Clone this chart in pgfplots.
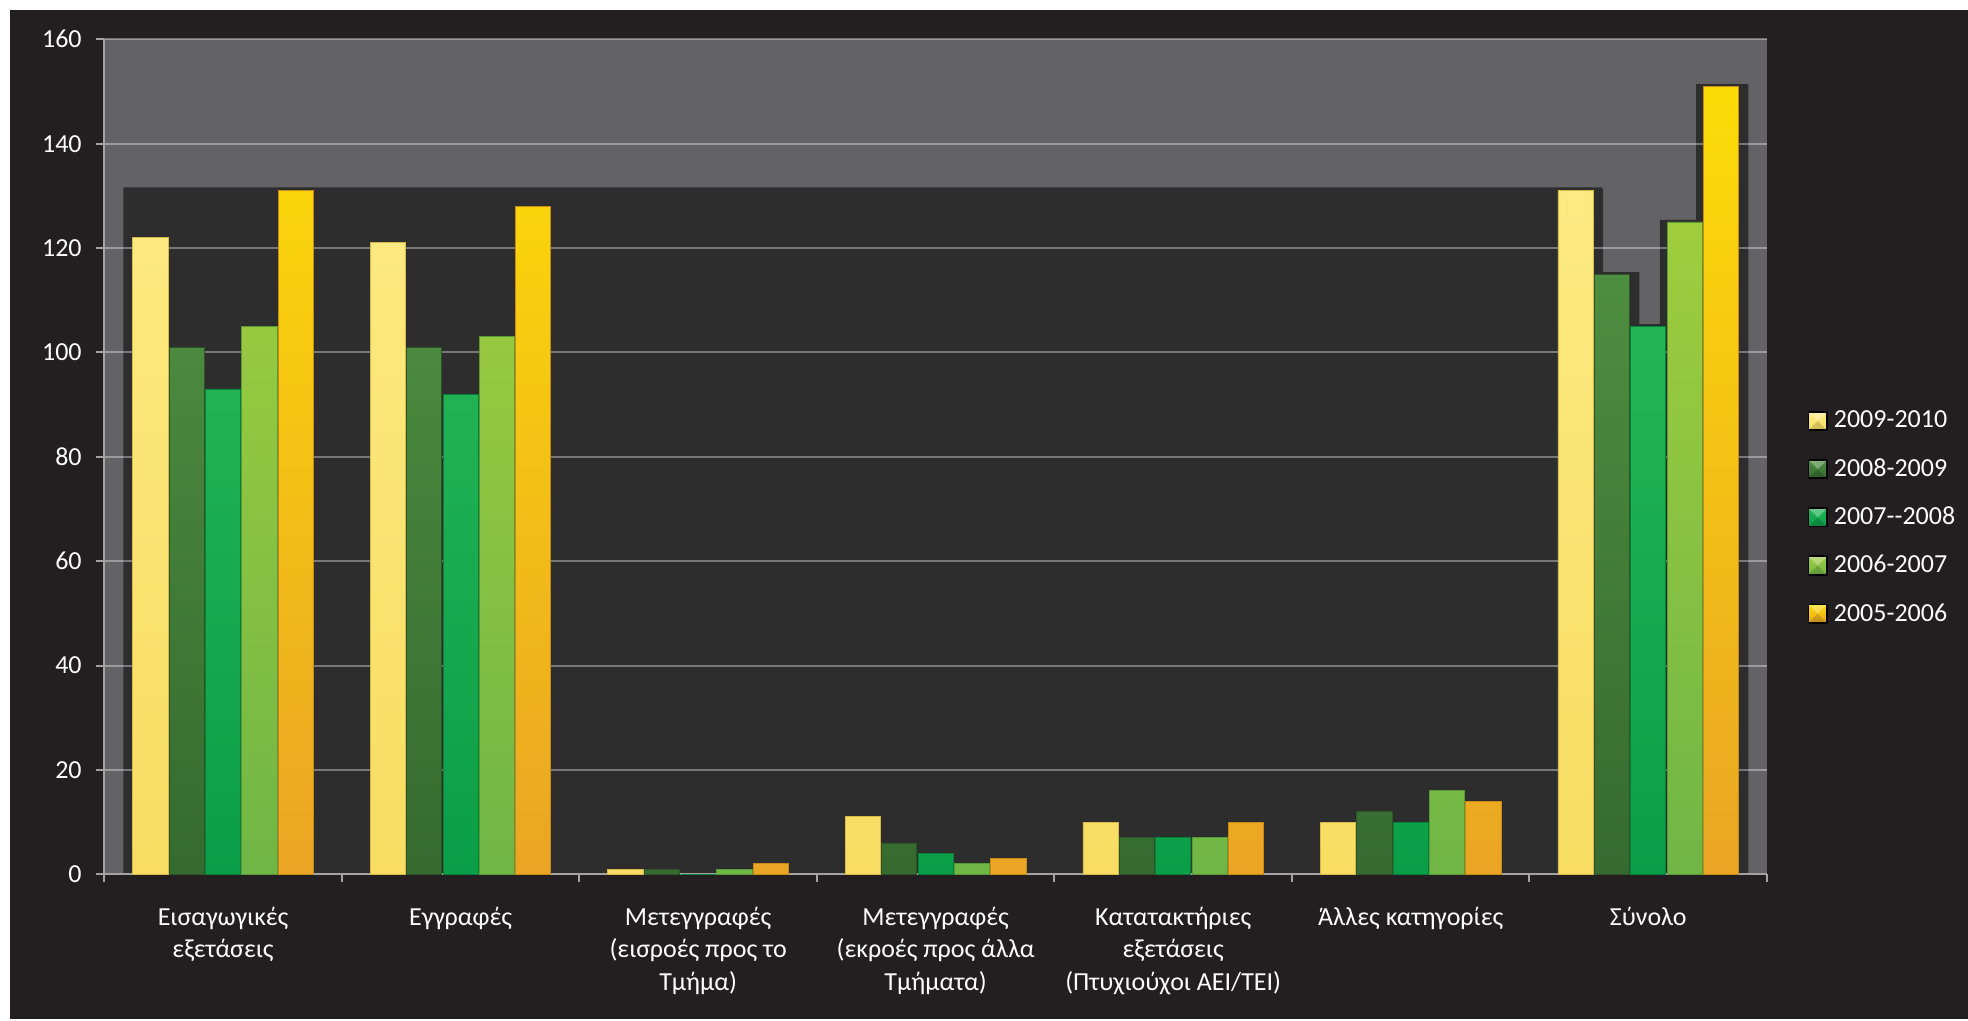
\documentclass[border=0pt]{standalone}
\usepackage{fontspec}
\setmainfont{Carlito}
\usepackage{pgfplots}
\usepackage{pgfplotstable}
\pgfplotsset{compat=1.18}
\definecolor{bgdark}{HTML}{231F20}
\definecolor{plotgray}{HTML}{636365}
\definecolor{shadowdark}{HTML}{2D2D2D}
\definecolor{axisgray}{HTML}{A3A3A3}
\definecolor{yelT}{HTML}{FDEA82}
\definecolor{yelB}{HTML}{F8DD62}
\definecolor{yelE}{HTML}{D8B84A}
\definecolor{dgT}{HTML}{4E8E40}
\definecolor{dgB}{HTML}{366A30}
\definecolor{dgE}{HTML}{2B5525}
\definecolor{grT}{HTML}{24B556}
\definecolor{grB}{HTML}{0A9E48}
\definecolor{grE}{HTML}{07803A}
\definecolor{lgT}{HTML}{9FCD3E}
\definecolor{lgB}{HTML}{70B646}
\definecolor{lgE}{HTML}{5A9A36}
\definecolor{goT}{HTML}{FCDC08}
\definecolor{goB}{HTML}{EAA524}
\definecolor{goE}{HTML}{C88A15}
\pgfdeclarelayer{figbg}
\pgfdeclarelayer{axis background}
\pgfdeclarelayer{axis shadow}
\pgfdeclarelayer{axis grid}
\pgfdeclarelayer{axis ticks}
\pgfdeclarelayer{axis lines}
\pgfdeclarelayer{axis tick labels}
\pgfdeclarelayer{axis descriptions}
\pgfdeclarelayer{axis foreground}
\tikzset{
  bevel/.style={path picture={
    \path[path picture={}, draw=none, top color=white, bottom color=white, opacity=0.3]
      (path picture bounding box.north west) --
      (path picture bounding box.north east) --
      (path picture bounding box.center) -- cycle;
    \path[path picture={}, draw=none, top color=black, bottom color=black, opacity=0.15]
      (path picture bounding box.south west) --
      (path picture bounding box.south east) --
      (path picture bounding box.center) -- cycle;
  }},
}
\pgfplotsset{
  layers/mylayers/.define layer set={
    figbg, axis background, axis shadow, axis grid, axis ticks, axis lines,
    axis tick labels, main, axis descriptions, axis foreground
  }{/pgfplots/layers/standard},
  mybar/.style={ybar, bar width=0.148, line width=0.4pt,
    legend image code/.code={\draw[##1, bevel, draw=black, line width=0.9pt] (0pt,-4.6pt) rectangle (9.2pt,4.6pt);}},
  myshadow/.style={ybar, forget plot, on layer=axis shadow, bar width=0.22,
    fill=shadowdark, draw=none},
}
\pgfplotstableread{
x   y09 y08 y07 y06 y05
0   122 101 93  105 131
1   121 101 92  103 128
2   1   1   0   1   2
3   11  6   4   2   3
4   10  7   7   7   10
5   10  12  10  16  14
6   131 115 105 125 151
}\datatable
\begin{document}
\begin{tikzpicture}
\pgfsetlayers{figbg,axis background,axis shadow,axis grid,axis ticks,axis lines,axis tick labels,main,axis descriptions,axis foreground}
\begin{pgfonlayer}{figbg}
\fill[white] (0,0) rectangle (984pt,510.5pt);
\fill[bgdark] (5pt,1pt) rectangle (984pt,505.5pt);
\end{pgfonlayer}
\begin{axis}[
  set layers=mylayers,
  at={(52.15pt,73.35pt)}, anchor=south west,
  scale only axis, width=831.35pt, height=417.5pt,
  xmin=-0.5, xmax=6.5, ymin=0, ymax=160,
  axis x line*=bottom, axis y line*=left,
  axis line style={draw=axisgray, line width=1pt},
  axis background/.style={fill=plotgray},
  ytick={0,20,...,160},
  ymajorgrids,
  major grid style={draw=white, draw opacity=0.36, line width=1pt},
  xtick={0,...,6},
  minor xtick={-0.5,0.5,...,6.5},
  xticklabels={{Εισαγωγικές\\εξετάσεις},{Εγγραφές},{Μετεγγραφές\\(εισροές προς το\\Τμήμα)},{Μετεγγραφές\\(εκροές προς άλλα\\Τμήματα)},{Κατατακτήριες\\εξετάσεις\\(Πτυχιούχοι ΑΕΙ/ΤΕΙ)},{Άλλες κατηγορίες},{Σύνολο}},
  tick align=outside,
  major tick length=4pt, minor tick length=4pt,
  tick style={draw=axisgray, line width=1pt},
  major x tick style={draw=none},
  /pgf/number format/assume math mode=true,
  tick label style={font=\fontsize{13}{16.3}\selectfont, text=white},
  xticklabel style={align=center, yshift=-8.8pt},
  yticklabel style={xshift=-3.8pt},
  legend style={at={(1.0242,0.4275)}, anchor=west, draw=none, fill=none,
    text=white, font=\fontsize{13}{16}\selectfont, inner sep=0pt,
    row sep=0pt, column sep=3pt,
    nodes={inner sep=0pt, minimum height=24.1pt}},
  legend cell align=left,
]
% shadow band and bar shadows
\addplot[forget plot, on layer=axis shadow, fill=shadowdark, draw=none]
  coordinates {(-0.42,0) (-0.42,131.6) (5.806,131.6) (5.806,0)} \closedcycle;
\addplot[myshadow, bar shift=-0.300] table[x=x, y expr=\thisrow{y09}+0.4] {\datatable};
\addplot[myshadow, bar shift=-0.147] table[x=x, y expr=\thisrow{y08}+0.4] {\datatable};
\addplot[myshadow, bar shift=0.006]  table[x=x, y expr=\thisrow{y07}+0.4] {\datatable};
\addplot[myshadow, bar shift=0.159]  table[x=x, y expr=\thisrow{y06}+0.4] {\datatable};
\addplot[myshadow, bar shift=0.312]  table[x=x, y expr=\thisrow{y05}+0.4] {\datatable};
% bars
\addplot[mybar, bar shift=-0.306, top color=yelT, bottom color=yelB, draw=yelE] table[x=x, y=y09] {\datatable};
\addplot[mybar, bar shift=-0.153, top color=dgT, bottom color=dgB, draw=dgE] table[x=x, y=y08] {\datatable};
\addplot[mybar, bar shift=0, top color=grT, bottom color=grB, draw=grE] table[x=x, y=y07] {\datatable};
\addplot[mybar, bar shift=0.153, top color=lgT, bottom color=lgB, draw=lgE] table[x=x, y=y06] {\datatable};
\addplot[mybar, bar shift=0.306, top color=goT, bottom color=goB, draw=goE] table[x=x, y=y05] {\datatable};
\legend{2009-2010, 2008-2009, 2007-{}-2008, 2006-2007, 2005-2006}
\end{axis}
\end{tikzpicture}
\end{document}
